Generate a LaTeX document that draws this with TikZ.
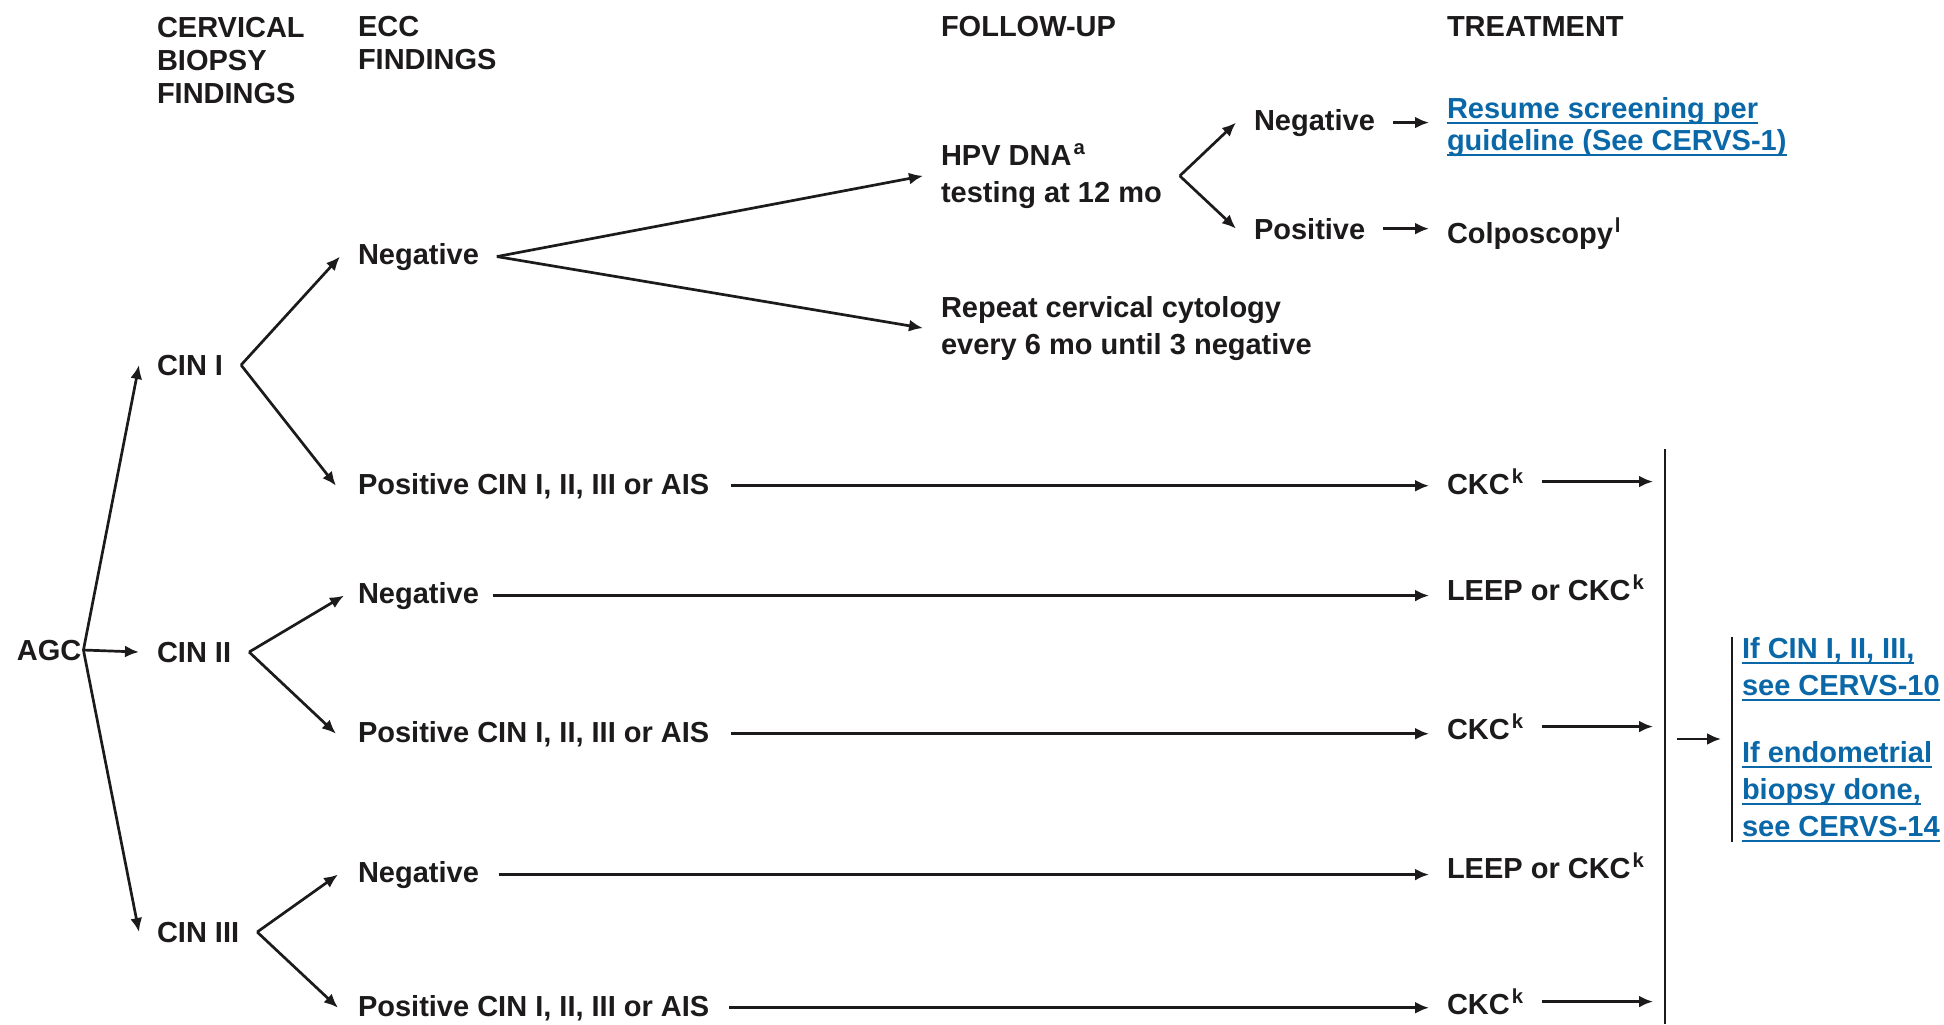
\documentclass[tikz,border=0pt]{standalone}
\usepackage{fontspec}
\setmainfont{Liberation Sans}
\usetikzlibrary{arrows.meta}
\definecolor{ink}{HTML}{1C1A1B}
\definecolor{link}{HTML}{0A68A8}
\newcommand\lnkul[1]{\setbox0\hbox{#1}\rlap{\rule[-3pt]{\wd0}{0.9pt}}\box0}
\newcommand\fn[1]{\kern1pt\textsuperscript{#1}}

\begin{document}
\begin{tikzpicture}[x=0.5pt,y=-0.5pt, >={Latex[length=7pt,width=6pt]},
  txt/.style={anchor=base west, inner sep=0pt, outer xsep=9pt, align=left, text=ink,
    font=\fontsize{14.5}{18.5}\selectfont\bfseries},
  hd/.style={txt, font=\fontsize{14.5}{16.5}\selectfont\bfseries},
  lnk/.style={txt, text=link},
  arr/.style={->, draw=ink, line width=1.35pt}]
\useasboundingbox (0,0) rectangle (1944,1024);

\node (h1) at (139,103) [hd] {CERVICAL\\BIOPSY\\FINDINGS};
\node (h2) at (340,69) [hd] {ECC\\FINDINGS};
\node (h3) at (923,36) [hd] {FOLLOW-UP};
\node (h4) at (1429,36) [hd] {TREATMENT};

\node (agc) at (15,660) [txt, outer xsep=1pt] {AGC};
\node (c1) at (139,375) [txt] {CIN I};
\node (c2) at (139,662) [txt] {CIN II};
\node (c3) at (139,942) [txt] {CIN III};

\node (n1) at (340,264) [txt] {Negative};
\node (p1) at (336,494) [txt, outer xsep=11pt] {Positive CIN I, II, III or AIS};
\node (n2) at (344,603) [txt, outer xsep=7pt] {Negative};
\node (p2) at (336,742) [txt, outer xsep=11pt] {Positive CIN I, II, III or AIS};
\node (n3) at (338,882) [txt, outer xsep=10pt] {Negative};
\node (p3) at (338,1016) [txt, outer xsep=10pt] {Positive CIN I, II, III or AIS};

\node (hpv) at (923,202) [txt] {HPV DNA\fn{a}\\testing at 12 mo};
\node (rep) at (923,354) [txt] {Repeat cervical cytology\\every 6 mo until 3 negative};
\node (hn) at (1236,130) [txt] {Negative};
\node (hp) at (1236,239) [txt] {Positive};
\node (res) at (1429,150) [lnk, font=\fontsize{14.5}{16}\selectfont\bfseries]
  {\lnkul{Resume screening per}\\\lnkul{guideline (See CERVS-1)}};
\node (col) at (1429,243) [txt] {Colposcopy\fn{l}};

\node (k1) at (1429,494) [txt] {CKC\fn{k}};
\node (l1) at (1429,600) [txt] {LEEP or CKC\fn{k}};
\node (k2) at (1429,739) [txt] {CKC\fn{k}};
\node (l2) at (1429,878) [txt] {LEEP or CKC\fn{k}};
\node (k3) at (1429,1014) [txt] {CKC\fn{k}};

\node (ref) at (1742,836) [lnk, outer xsep=0pt]
  {\lnkul{If CIN I, II, III,}\\\lnkul{see CERVS-10}\\[15pt]\lnkul{If endometrial}\\\lnkul{biopsy done,}\\\lnkul{see CERVS-14}};

\coordinate (vt) at (1665,449);
\coordinate (vb) at (1665,1024);
\coordinate (vm) at (1665,739);

\draw[arr] (agc.east) -- (c1.west);
\draw[arr] (agc.east) -- (c2.west);
\draw[arr] (agc.east) -- (c3.west);
\draw[arr] (c1.east) -- (n1.west);
\draw[arr] (c1.east) -- (p1.west);
\draw[arr] (c2.east) -- (n2.west);
\draw[arr] (c2.east) -- (p2.west);
\draw[arr] (c3.east) -- (n3.west);
\draw[arr] (c3.east) -- (p3.west);

\draw[arr] (n1.east) -- (hpv.west);
\draw[arr] (n1.east) -- (rep.west);
\draw[arr] (hpv.east) -- (hn.west);
\draw[arr] (hpv.east) -- (hp.west);
\draw[arr] (hn.east) -- (hn.east -| res.west);
\draw[arr] (hp.east) -- (hp.east -| col.west);

\draw[arr] (p1.east) -- (p1.east -| k1.west);
\draw[arr] (n2.east) -- (n2.east -| l1.west);
\draw[arr] (p2.east) -- (p2.east -| k2.west);
\draw[arr] (n3.east) -- (n3.east -| l2.west);
\draw[arr] (p3.east) -- (p3.east -| k3.west);

\draw[arr, shorten >=6pt] (k1.east) -- (k1.east -| vt);
\draw[arr, shorten >=6pt] (k2.east) -- (k2.east -| vt);
\draw[arr, shorten >=6pt] (k3.east) -- (k3.east -| vt);
\draw[ink, line width=1.35pt] (vt) -- (vb);
\draw[arr, shorten <=6pt, shorten >=10.5pt] (vm) -- (vm -| ref.west);
\draw[ink, line width=1.35pt] ([xshift=-5pt]ref.north west) -- ([xshift=-5pt]ref.south west);
\end{tikzpicture}
\end{document}
